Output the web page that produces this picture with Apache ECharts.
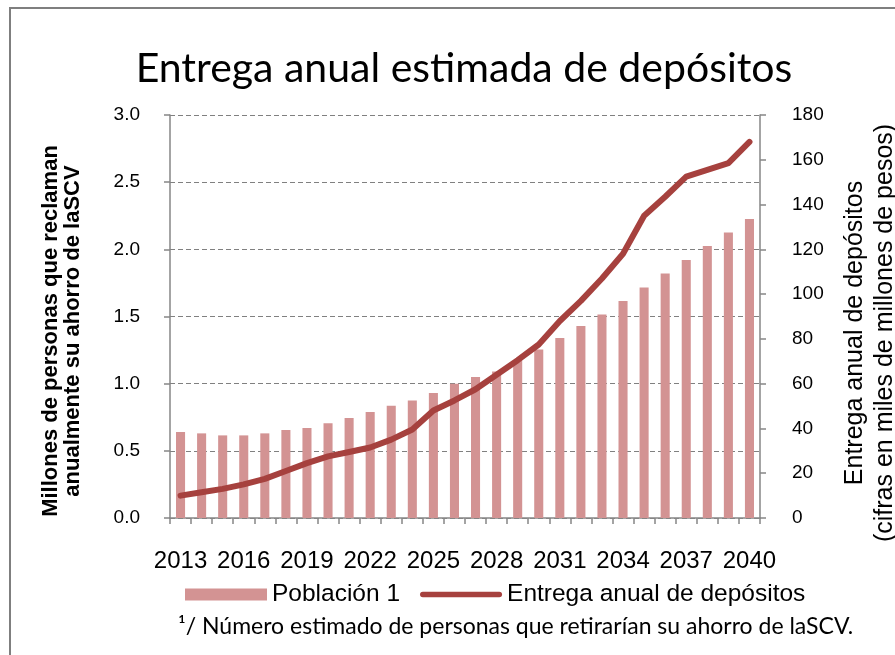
<!DOCTYPE html>
<html>
<head>
<meta charset="utf-8">
<script src="https://cdn.jsdelivr.net/npm/echarts@6/dist/echarts.min.js"></script>
<style>
html,body{margin:0;padding:0;background:#fff;}
#chart{width:895px;height:655px;}
</style>
</head>
<body>
<div id="chart"></div>
<script>
const categories = ['2013','2014','2015','2016','2017','2018','2019','2020','2021','2022','2023','2024','2025','2026',
  '2027','2028','2029','2030','2031','2032','2033','2034','2035','2036','2037','2038','2039','2040'];
const poblacion = [0.64, 0.63, 0.615, 0.615, 0.63, 0.655, 0.67, 0.705, 0.745, 0.79, 0.835, 0.875, 0.93, 1.0,
  1.05, 1.09, 1.175, 1.255, 1.34, 1.43, 1.515, 1.615, 1.715, 1.82, 1.92, 2.025, 2.125, 2.225];
const entrega = [10, 11.5, 13, 15, 17.5, 21, 24.5, 27.5, 29.5, 31.5, 35, 39.5, 48, 52.5,
  57.5, 64, 70.5, 77.5, 88, 97, 107, 118, 135, 143.5, 152.5, 155.5, 158.5, 168];
const leftTickLabels = ['0.0','0.5','1.0','1.5','2.0','2.5','3.0'];
const rightTickLabels = ['0','20','40','60','80','100','120','140','160','180'];
const seriesNames = ['Población 1', 'Entrega anual de depósitos'];
const titleText = 'Entrega anual estimada de depósitos';
const leftAxisTitle = 'Millones de personas que reclaman\nanualmente su ahorro de laSCV';
const rightAxisTitle = 'Entrega anual de depósitos\n(cifras en miles de millones de pesos)';
const footnote = '¹/ Número estimado de personas que retirarían su ahorro de laSCV.';

const hFont = '"Liberation Sans", Arial, sans-serif';
const axisGray = '#868686';
const barColor = '#D39393';
const lineColor = '#A6413E';

const chart = echarts.init(document.getElementById('chart'), null, {renderer: 'canvas'});
chart.setOption({
  animation: false,
  backgroundColor: '#ffffff',
  title: {
    text: titleText,
    left: 459,
    top: 43,
    textAlign: 'center',
    textStyle: {fontFamily: 'Lato, "Open Sans", sans-serif', fontWeight: 'normal', fontSize: 41, color: '#000'}
  },
  grid: {left: 170, right: 135, top: 115, bottom: 137, containLabel: false},
  legend: {
    left: 180,
    top: 577,
    itemWidth: 82,
    itemHeight: 12,
    itemGap: 20,
    textStyle: {fontFamily: hFont, fontSize: 24.5, color: '#000'},
    data: [
      {name: seriesNames[0], icon: 'rect'},
      {name: seriesNames[1], icon: 'path://M2.75,0 L79.25,0 A2.75,2.75 0 0 1 79.25,5.5 L2.75,5.5 A2.75,2.75 0 0 1 2.75,0 Z'}
    ]
  },
  xAxis: {
    type: 'category',
    data: categories,
    boundaryGap: true,
    axisLine: {lineStyle: {color: axisGray, width: 1.5}},
    axisTick: {show: true, interval: 0, length: 6, lineStyle: {color: axisGray, width: 1.5}},
    axisLabel: {interval: 2, margin: 31, fontFamily: hFont, fontSize: 24, color: '#000'}
  },
  yAxis: [{
    type: 'value',
    min: 0, max: 3, interval: 0.5,
    axisLine: {show: true, lineStyle: {color: axisGray, width: 1.5}},
    axisTick: {show: true, length: 6, lineStyle: {color: axisGray, width: 1.5}},
    axisLabel: {margin: 30, fontFamily: hFont, fontSize: 19, color: '#000',
      formatter: v => leftTickLabels[Math.round(v / 0.5)]},
    splitLine: {show: true, lineStyle: {color: '#808080', width: 1.2, type: [5, 3]}}
  }, {
    type: 'value',
    min: 0, max: 180, interval: 20,
    position: 'right',
    axisLine: {show: true, lineStyle: {color: axisGray, width: 1.5}},
    axisTick: {show: true, length: 6, lineStyle: {color: axisGray, width: 1.5}},
    axisLabel: {margin: 32, align: 'left', fontFamily: hFont, fontSize: 19, color: '#000',
      formatter: v => rightTickLabels[Math.round(v / 20)]},
    splitLine: {show: false}
  }],
  series: [{
    name: seriesNames[0],
    type: 'bar',
    yAxisIndex: 0,
    data: poblacion,
    barWidth: '43%',
    itemStyle: {color: barColor}
  }, {
    name: seriesNames[1],
    type: 'line',
    yAxisIndex: 1,
    data: entrega,
    symbol: 'none',
    lineStyle: {color: lineColor, width: 6, cap: 'round', join: 'round'},
    itemStyle: {color: lineColor}
  }],
  graphic: [{
    type: 'rect',
    silent: true,
    shape: {x: 10, y: 8, width: 1000, height: 1000},
    style: {fill: 'none', stroke: '#7f7f7f', lineWidth: 2}
  }, {
    type: 'text',
    x: 62, y: 331,
    rotation: Math.PI / 2,
    style: {text: leftAxisTitle, fontFamily: hFont, fontWeight: 'bold',
      fontSize: 22, lineHeight: 22, fill: '#000', align: 'center', verticalAlign: 'middle'}
  }, {
    type: 'text',
    x: 870, y: 333,
    rotation: Math.PI / 2,
    style: {text: rightAxisTitle, fontFamily: hFont,
      fontSize: 25, lineHeight: 30, fill: '#000', align: 'center', verticalAlign: 'middle'}
  }, {
    type: 'text',
    x: 178, y: 627,
    style: {text: footnote, fontFamily: 'Lato, "Open Sans", sans-serif', fontSize: 23, fill: '#000',
      align: 'left', verticalAlign: 'middle'}
  }]
});
</script>
</body>
</html>
